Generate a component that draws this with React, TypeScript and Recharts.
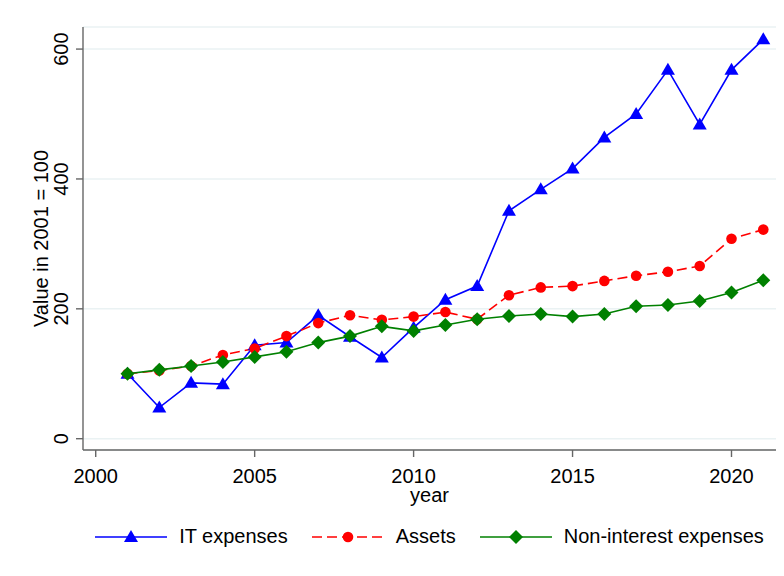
import { LineChart, Line, XAxis, YAxis, CartesianGrid, Legend } from 'recharts'

const years = [2001, 2002, 2003, 2004, 2005, 2006, 2007, 2008, 2009, 2010, 2011, 2012, 2013, 2014, 2015, 2016, 2017, 2018, 2019, 2020, 2021]
const itExpenses = [100, 48, 86, 84, 144, 148, 190, 157, 125, 171, 214, 235, 351, 384, 416, 464, 500, 568, 484, 568, 615]
const assets = [100, 105, 112, 129, 139, 158, 178, 190, 183, 188, 195, 184, 221, 233, 235, 243, 251, 257, 266, 308, 322]
const nonInterest = [100, 106, 112, 118, 126, 134, 148, 158, 173, 166, 175, 184, 189, 192, 188, 192, 204, 206, 212, 225, 244]

const xTicks = [2000, 2005, 2010, 2015, 2020]
const yTicks = [0, 200, 400, 600]

const data = years.map((year, i) => ({
  year,
  it: itExpenses[i],
  assets: assets[i],
  nonint: nonInterest[i],
}))

const FONT = '"Liberation Sans", Arial, sans-serif'
const BLUE = '#0000ff'
const RED = '#ff0000'
const GREEN = '#008000'
const AXIS = '#666666'

const Triangle = ({ cx, cy, fill }: any) => {
  if (cx == null || cy == null) return null
  return <polygon points={`${cx},${cy - 7} ${cx - 7},${cy + 5} ${cx + 7},${cy + 5}`} fill={fill} />
}

const Diamond = ({ cx, cy, fill }: any) => {
  if (cx == null || cy == null) return null
  return <polygon points={`${cx},${cy - 7} ${cx + 7},${cy} ${cx},${cy + 7} ${cx - 7},${cy}`} fill={fill} />
}

const Dot = ({ cx, cy, fill }: any) => {
  if (cx == null || cy == null) return null
  return <circle cx={cx} cy={cy} r={5.3} fill={fill} />
}

const YTick = ({ x, y, payload }: any) => (
  <text
    x={x}
    y={y}
    transform={`rotate(-90, ${x}, ${y})`}
    textAnchor='middle'
    fontSize={20}
    fontFamily={FONT}
    fill='#000'
  >
    {payload.value}
  </text>
)

const legendItems = [
  { name: 'IT expenses', color: BLUE, dash: undefined, marker: 'tri' },
  { name: 'Assets', color: RED, dash: '10 5', marker: 'circle' },
  { name: 'Non-interest expenses', color: GREEN, dash: undefined, marker: 'diamond' },
]

const LegendRow = () => (
  <div style={{ display: 'flex', justifyContent: 'center', alignItems: 'center', fontFamily: FONT, fontSize: 20, color: '#000' }}>
    {legendItems.map((item, i) => (
      <div key={item.name} style={{ display: 'flex', alignItems: 'center', marginLeft: i === 0 ? 0 : 24 }}>
        <svg width={72} height={20}>
          <line x1={0} y1={10} x2={72} y2={10} stroke={item.color} strokeWidth={1.6} strokeDasharray={item.dash} />
          {item.marker === 'tri' && <Triangle cx={36} cy={10} fill={item.color} />}
          {item.marker === 'circle' && <Dot cx={36} cy={10} fill={item.color} />}
          {item.marker === 'diamond' && <Diamond cx={36} cy={10} fill={item.color} />}
        </svg>
        <span style={{ marginLeft: 12 }}>{item.name}</span>
      </div>
    ))}
  </div>
)

export default function App() {
  return (
    <div style={{ position: 'absolute', left: 0, top: 0, width: 784, height: 576, background: '#fff' }}>
      <LineChart width={784} height={576} data={data} margin={{ top: 27, right: 8, left: 0, bottom: 76 }}>
        <CartesianGrid vertical={false} stroke='#eaf2f3' strokeWidth={1.5} />
        <XAxis
          dataKey='year'
          type='number'
          domain={[1999.6, 2021.4]}
          ticks={xTicks}
          height={50}
          tickSize={7}
          tickMargin={12}
          stroke={AXIS}
          strokeWidth={1.4}
          tick={{ fontSize: 20, fontFamily: FONT, fill: '#000' }}
          label={({ viewBox }: any) => (
            <text x={viewBox.x + viewBox.width / 2} y={viewBox.y + 52} textAnchor='middle' fontSize={20} fontFamily={FONT} fill='#000'>
              year
            </text>
          )}
        />
        <YAxis
          type='number'
          domain={[-17.4, 634]}
          ticks={yTicks}
          width={83}
          tickSize={7}
          tickMargin={8}
          stroke={AXIS}
          strokeWidth={1.4}
          tick={<YTick />}
          label={({ viewBox }: any) => {
            const x = viewBox.x + 48
            const y = viewBox.y + viewBox.height / 2
            return (
              <text x={x} y={y} transform={`rotate(-90, ${x}, ${y})`} textAnchor='middle' fontSize={20} fontFamily={FONT} fill='#000'>
                Value in 2001 = 100
              </text>
            )
          }}
        />
        <Legend
          verticalAlign='middle'
          align='center'
          content={<LegendRow />}
          wrapperStyle={{ top: 525, left: 83, width: 693 }}
        />
        <Line
          dataKey='it'
          name='IT expenses'
          stroke={BLUE}
          strokeWidth={1.6}
          dot={<Triangle fill={BLUE} />}
          activeDot={false}
          isAnimationActive={false}
        />
        <Line
          dataKey='assets'
          name='Assets'
          stroke={RED}
          strokeWidth={1.6}
          strokeDasharray='10 5'
          dot={<Dot fill={RED} />}
          activeDot={false}
          isAnimationActive={false}
        />
        <Line
          dataKey='nonint'
          name='Non-interest expenses'
          stroke={GREEN}
          strokeWidth={1.6}
          dot={<Diamond fill={GREEN} />}
          activeDot={false}
          isAnimationActive={false}
        />
      </LineChart>
    </div>
  )
}
